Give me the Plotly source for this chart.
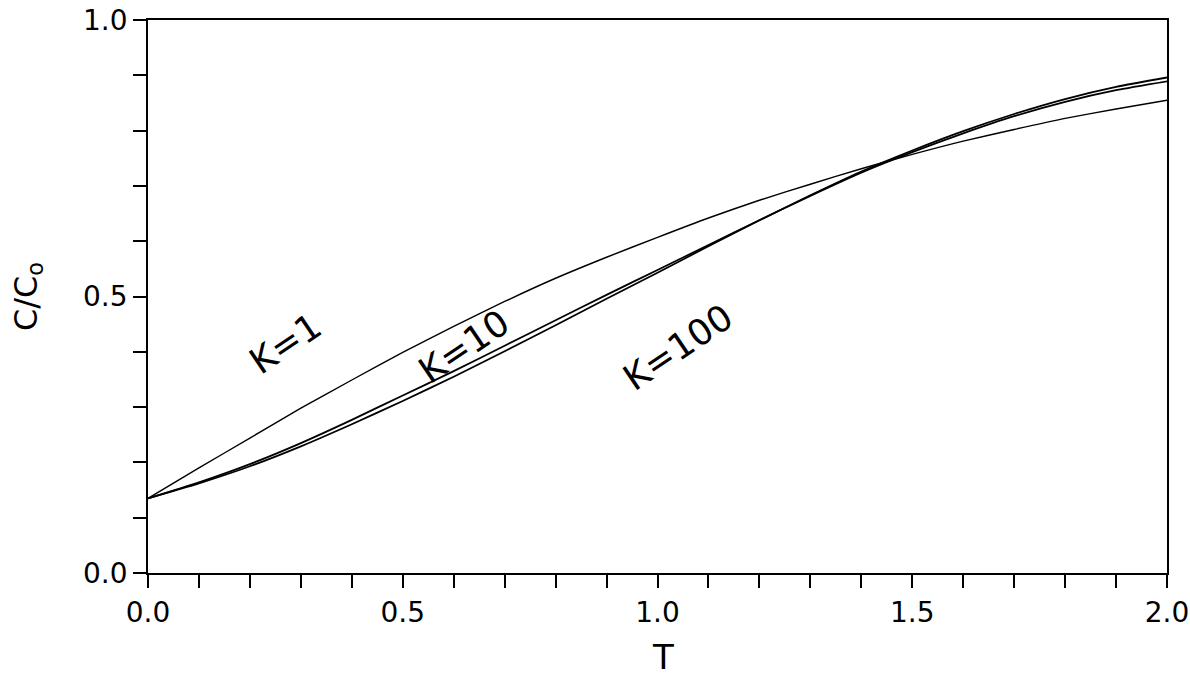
import plotly.graph_objects as go

# Dimensionless time T and relative concentration C/Co for three K values
T = [0.0, 0.1, 0.2, 0.3, 0.4, 0.5, 0.6, 0.7, 0.8, 0.9, 1.0,
     1.1, 1.2, 1.3, 1.4, 1.5, 1.6, 1.7, 1.8, 1.9, 2.0]
c_k1 = [0.135, 0.190, 0.244, 0.298, 0.349, 0.399, 0.446, 0.491, 0.533, 0.571, 0.607,
        0.642, 0.674, 0.703, 0.731, 0.757, 0.781, 0.802, 0.822, 0.839, 0.855]
c_k10 = [0.135, 0.164, 0.197, 0.235, 0.277, 0.321, 0.365, 0.411, 0.457, 0.503, 0.548,
         0.593, 0.638, 0.682, 0.724, 0.761, 0.795, 0.826, 0.852, 0.873, 0.889]
c_k100 = [0.135, 0.162, 0.193, 0.229, 0.269, 0.311, 0.355, 0.401, 0.448, 0.496, 0.543,
          0.591, 0.638, 0.683, 0.726, 0.764, 0.799, 0.830, 0.857, 0.879, 0.896]

curve_labels = ["K=1", "K=10", "K=100"]
label_T = [0.27, 0.62, 1.04]
label_C = [0.415, 0.410, 0.407]

x_major = [0.0, 0.5, 1.0, 1.5, 2.0]
x_ticktext = ["0.0", "0.5", "1.0", "1.5", "2.0"]
y_major = [0.0, 0.5, 1.0]
y_ticktext = ["0.0", "0.5", "1.0"]

FONT = "DejaVu Sans"

fig = go.Figure()
for series, w in ((c_k1, 1.4), (c_k10, 1.8), (c_k100, 1.8)):
    fig.add_trace(go.Scatter(
        x=T, y=series, mode="lines",
        line=dict(color="black", width=w, shape="spline", smoothing=0.6),
        showlegend=False, hoverinfo="skip",
    ))

for text, tx, cy in zip(curve_labels, label_T, label_C):
    fig.add_annotation(
        x=tx, y=cy, text=text, showarrow=False, textangle=-34,
        font=dict(family=FONT, size=36, color="black"),
        xref="x", yref="y",
    )

# x-axis title placed below the tick labels
fig.add_annotation(
    x=0.5, y=0, xref="paper", yref="paper", text="T", showarrow=False,
    xanchor="center", yanchor="middle", xshift=5, yshift=-84,
    font=dict(family=FONT, size=34, color="black"),
)

tick_style = dict(ticks="outside", ticklen=13, tickwidth=1.5, tickcolor="black")

fig.update_xaxes(
    range=[0, 2.0], tickmode="array", tickvals=x_major, ticktext=x_ticktext,
    **tick_style,
    minor=dict(dtick=0.1, **tick_style),
    showline=True, linecolor="black", linewidth=1.8, mirror=True,
    showgrid=False, zeroline=False, automargin=False,
    tickfont=dict(family=FONT, size=28, color="black"),
)
fig.update_yaxes(
    range=[0, 1.0], tickmode="array", tickvals=y_major, ticktext=y_ticktext,
    **tick_style,
    minor=dict(dtick=0.1, **tick_style),
    showline=True, linecolor="black", linewidth=1.8, mirror=True,
    showgrid=False, zeroline=False, automargin=False,
    tickfont=dict(family=FONT, size=28, color="black"),
    title=dict(text="C/C<sub>o</sub>", font=dict(family=FONT, size=32, color="black"), standoff=36),
)

fig.update_layout(
    width=1190, height=679,
    margin=dict(l=148, r=23, t=20, b=106),
    paper_bgcolor="white", plot_bgcolor="white",
)

fig.write_html("out.html")
